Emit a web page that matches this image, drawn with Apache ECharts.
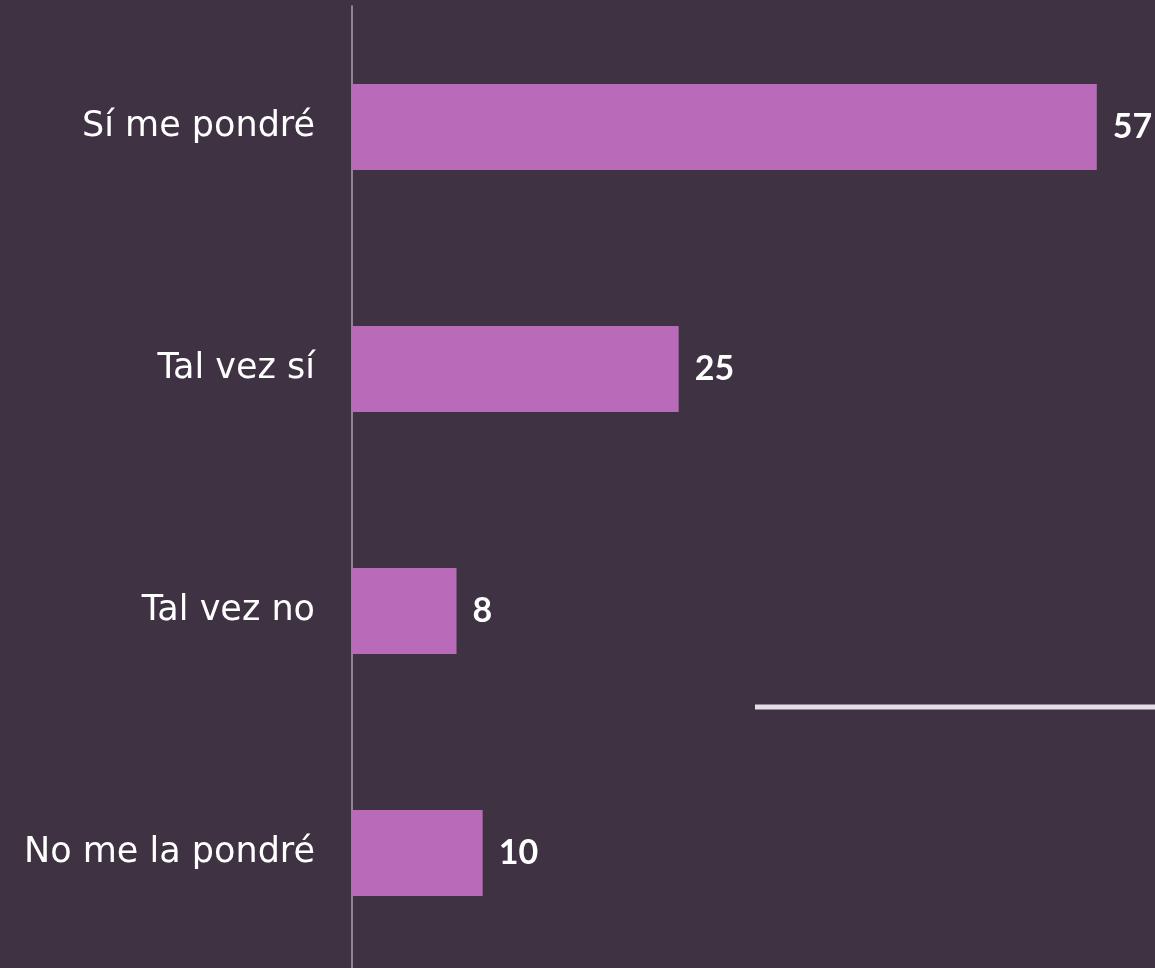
<!DOCTYPE html>
<html>
<head>
<meta charset="utf-8">
<script src="https://cdn.jsdelivr.net/npm/echarts@6/dist/echarts.min.js"></script>
<style>
html,body{margin:0;padding:0;background:#3e3243;}
#chart{width:1155px;height:968px;}
</style>
</head>
<body>
<div id="chart"></div>
<script>
const categories = ['Sí me pondré', 'Tal vez sí', 'Tal vez no', 'No me la pondré'];
const values = [57, 25, 8, 10];

const chart = echarts.init(document.getElementById('chart'));
chart.setOption({
  backgroundColor: '#3e3243',
  animation: false,
  grid: {left: 352, top: 6, width: 784, height: 968, containLabel: false, outerBoundsMode: 'none'},
  xAxis: {
    type: 'value', min: 0, max: 60, show: false
  },
  yAxis: {
    type: 'category', inverse: true, data: categories,
    axisLine: {show: true, lineStyle: {color: '#aaa5ae', width: 1.5}},
    axisTick: {show: false},
    axisLabel: {color: '#ffffff', fontSize: 35, fontFamily: 'DejaVu Sans', margin: 37}
  },
  series: [{
    type: 'bar', data: values, barWidth: 86,
    itemStyle: {color: '#b96ab8'},
    label: {show: true, position: 'right', distance: 16, color: '#ffffff',
            fontSize: 34, fontFamily: 'Lato', fontWeight: 'bold'}
  }],
  graphic: [{
    type: 'line', shape: {x1: 755, y1: 707, x2: 1160, y2: 707},
    style: {stroke: '#e6dfe9', lineWidth: 5}
  }]
});
</script>
</body>
</html>
